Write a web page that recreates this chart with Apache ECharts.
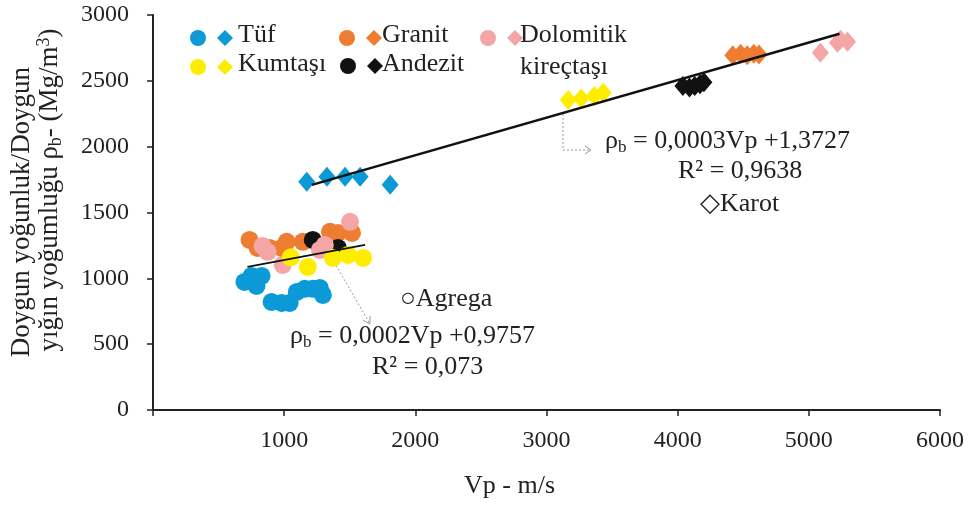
<!DOCTYPE html>
<html>
<head>
<meta charset="utf-8">
<script src="https://cdn.jsdelivr.net/npm/echarts@6/dist/echarts.min.js"></script>
<style>
  html, body { margin: 0; padding: 0; background: #fff; }
  #chart { width: 973px; height: 507px; }
</style>
</head>
<body>
<div id="chart"></div>
<script>
// Agrega (circles) [Vp, density]
const tufAgrega = [[697, 973], [751, 1018], [789, 942], [828, 1018], [904, 821], [981, 813], [1042, 813], [1096, 897], [1157, 920], [1218, 920], [1272, 927], [1295, 874]];
const granitAgrega = [[736, 1292], [797, 1231], [889, 1231], [981, 1231], [1019, 1277], [1142, 1277], [1349, 1353], [1410, 1345], [1517, 1345]];
const andezitAgrega = [[1218, 1292], [1410, 1231]];
const dolomitAgrega = [[835, 1246], [874, 1201], [989, 1102], [1272, 1216], [1310, 1254], [1502, 1429]];
const kumtasiAgrega = [[1050, 1160], [1180, 1087], [1372, 1155], [1487, 1178], [1602, 1155]];

// Karot (diamonds)
const tufKarot = [[1172, 1733], [1326, 1771], [1464, 1771], [1579, 1771], [1808, 1710]];
const kumtasiKarot = [[3165, 2355], [3264, 2365], [3364, 2385], [3433, 2410]];
const andezitKarot = [[4040, 2460], [4090, 2450], [4130, 2460], [4170, 2475], [4200, 2490]];
const granitKarot = [[4420, 2695], [4480, 2705], [4530, 2695], [4580, 2705], [4620, 2700]];
const dolomitKarot = [[5088, 2713], [5218, 2789], [5241, 2812], [5295, 2797]];

// trend lines (end points)
const karotTrend = [[1211, 1710], [5234, 2858]];
const agregaTrend = [[720, 1087], [1617, 1254]];

const xTicks = [0, 6000, 1000];
const yTicks = [0, 3000, 500];

const C = { tuf: '#0b9ad6', granit: '#ee7d31', andezit: '#111111', dolomit: '#f4a5a6', kumtasi: '#ffed00' };
const FONT = '"Liberation Serif", "Times New Roman", serif';

const chart = echarts.init(document.getElementById('chart'));

function pts(name, data, color, symbol, size) {
  return { name, type: 'scatter', data, symbol, symbolSize: size, z: 2,
    itemStyle: { color, opacity: 1 }, silent: true };
}

function txt(left, top, text, size) {
  const s = size || 26;
  return {
    type: 'text', left, top,
    style: { text, font: s + 'px "Liberation Serif", serif', fill: '#222' }
  };
}

const richEq = {
  m: { fontFamily: FONT, fontSize: 26, lineHeight: 30, verticalAlign: 'middle', fill: '#222' },
  s: { fontFamily: FONT, fontSize: 17, lineHeight: 16, verticalAlign: 'bottom', fill: '#222' }
};

function legendPair(cx, cy, color) {
  return [
    { type: 'circle', shape: { cx, cy, r: 8 }, style: { fill: color } },
    { type: 'polygon', shape: { points: [[cx + 27, cy - 8], [cx + 35, cy], [cx + 27, cy + 8], [cx + 19, cy]] }, style: { fill: color } }
  ];
}

chart.setOption({
  animation: false,
  grid: { left: 153, right: 33, top: 15, bottom: 97 },
  xAxis: {
    type: 'value', min: xTicks[0], max: xTicks[1], interval: xTicks[2],
    axisLine: { show: true, lineStyle: { color: '#222', width: 2 } },
    axisTick: { show: true, length: 6, lineStyle: { color: '#222', width: 1.5 } },
    splitLine: { show: false },
    axisLabel: { fontFamily: FONT, fontSize: 24, color: '#222', margin: 19,
      formatter: v => v === 0 ? '' : String(v) }
  },
  yAxis: {
    type: 'value', min: yTicks[0], max: yTicks[1], interval: yTicks[2],
    axisLine: { show: true, lineStyle: { color: '#222', width: 2 } },
    axisTick: { show: true, length: 6, lineStyle: { color: '#222', width: 1.5 } },
    splitLine: { show: false },
    axisLabel: { fontFamily: FONT, fontSize: 24, color: '#222', margin: 24,
      formatter: v => String(v) }
  },
  series: [
    pts('T\u00fcf agrega', tufAgrega, C.tuf, 'circle', 18),
    pts('Granit agrega', granitAgrega, C.granit, 'circle', 18),
    pts('Andezit agrega', andezitAgrega, C.andezit, 'circle', 18),
    pts('Dolomitik agrega', dolomitAgrega, C.dolomit, 'circle', 18),
    pts('Kumta\u015f\u0131 agrega', kumtasiAgrega, C.kumtasi, 'circle', 18),
    pts('T\u00fcf karot', tufKarot, C.tuf, 'diamond', [17, 20]),
    pts('Kumta\u015f\u0131 karot', kumtasiKarot, C.kumtasi, 'diamond', [17, 20]),
    pts('Andezit karot', andezitKarot, C.andezit, 'diamond', [17, 20]),
    pts('Granit karot', granitKarot, C.granit, 'diamond', [17, 20]),
    pts('Dolomitik karot', dolomitKarot, C.dolomit, 'diamond', [17, 20]),
    { name: 'Karot trend', type: 'line', data: karotTrend, showSymbol: false, z: 5,
      lineStyle: { color: '#111', width: 2.5 } },
    { name: 'Agrega trend', type: 'line', data: agregaTrend, showSymbol: false, z: 5,
      lineStyle: { color: '#111', width: 2 } }
  ],
  graphic: [
    // legend
    ...legendPair(198, 38, C.tuf),
    ...legendPair(347, 38, C.granit),
    ...legendPair(488, 38, C.dolomit),
    ...legendPair(198, 67, C.kumtasi),
    ...legendPair(348, 66, C.andezit),
    txt(238, 22, 'T\u00fcf'),
    txt(382, 22, 'Granit'),
    txt(520, 22, 'Dolomitik'),
    txt(238, 51, 'Kumta\u015f\u0131'),
    txt(382, 51, 'Andezit'),
    txt(520, 54, 'kire\u00e7ta\u015f\u0131'),
    // y axis name
    { type: 'text', x: 22, y: 212, rotation: Math.PI / 2,
      style: { text: 'Doygun yoğunluk/Doygun', font: '27px "Liberation Serif", serif', fill: '#222', align: 'center', verticalAlign: 'middle' } },
    { type: 'text', x: 50, y: 190, rotation: Math.PI / 2,
      style: { text: '{m|yığın yoğumluğu ρ}{s|b}{m|- (Mg/m}{u|3}{m|)}', align: 'center', verticalAlign: 'middle',
        rich: {
          m: { fontFamily: FONT, fontSize: 27, lineHeight: 30, verticalAlign: 'middle', fill: '#222' },
          s: { fontFamily: FONT, fontSize: 18, lineHeight: 16, verticalAlign: 'bottom', fill: '#222' },
          u: { fontFamily: FONT, fontSize: 18, lineHeight: 16, verticalAlign: 'top', fill: '#222' }
        } } },
    // x axis name
    txt(464, 473, 'Vp - m/s'),
    // annotation arrows
    { type: 'polyline', shape: { points: [[563, 114], [563, 150], [590, 150]] },
      style: { stroke: '#999', lineWidth: 1, lineDash: [2, 2], fill: null } },
    { type: 'polyline', shape: { points: [[585, 146], [591, 150], [585, 154]] },
      style: { stroke: '#999', lineWidth: 1, fill: null } },
    { type: 'polyline', shape: { points: [[334, 262], [370, 324]] },
      style: { stroke: '#999', lineWidth: 1, lineDash: [2, 2], fill: null } },
    { type: 'polyline', shape: { points: [[363, 320], [370, 324], [370, 316]] },
      style: { stroke: '#999', lineWidth: 1, fill: null } },
    // equations
    { type: 'text', left: 605, top: 128,
      style: { text: '{m|ρ}{s|b}{m| = 0,0003Vp +1,3727}', rich: richEq } },
    txt(678, 158, 'R² = 0,9638'),
    txt(700, 191, '◇Karot'),
    txt(400, 286, '○Agrega'),
    { type: 'text', left: 290, top: 323,
      style: { text: '{m|ρ}{s|b}{m| = 0,0002Vp +0,9757}', rich: richEq } },
    txt(372, 354, 'R² = 0,073')
  ]
});
</script>
</body>
</html>
